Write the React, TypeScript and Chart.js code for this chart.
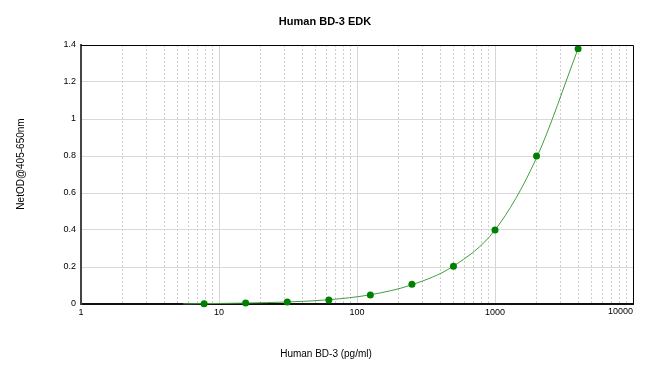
import { useEffect, useRef } from 'react';
import { Chart, registerables } from 'chart.js';

Chart.register(...registerables);

const chartTitle = 'Human BD-3 EDK';
const xAxisTitle = 'Human BD-3 (pg/ml)';
const yAxisTitle = 'NetOD@405-650nm';

// standards (concentration pg/ml, net OD)
const concentrations = [7.8, 15.6, 31.25, 62.5, 125, 250, 500, 1000, 2000, 4000];
const netOD = [0.002, 0.005, 0.011, 0.022, 0.049, 0.107, 0.204, 0.4, 0.8, 1.38];

// fitted curve
const fitX = [5.5, 7.8, 15.6, 31.25, 62.5, 125, 250, 500, 1000, 2000, 4000];
const fitY = [0.001, 0.002, 0.005, 0.011, 0.023, 0.05, 0.104, 0.205, 0.4, 0.79, 1.38];

const xTickValues = [1, 10, 100, 1000, 10000];
const yTickValues = [0, 0.2, 0.4, 0.6, 0.8, 1, 1.2, 1.4];

const FONT = '"Liberation Sans", Arial, sans-serif';

const isDecade = (v: number) => xTickValues.includes(v);
const lastX = xTickValues[xTickValues.length - 1];

export default function App() {
  const ref = useRef<HTMLCanvasElement | null>(null);

  useEffect(() => {
    if (!ref.current) return;

    const frame = {
      id: 'frameAndTitles',
      afterDraw(chart: any) {
        const { ctx, chartArea } = chart;
        const { left, right, top, bottom } = chartArea;
        ctx.save();
        ctx.strokeStyle = '#000';
        ctx.lineWidth = 1;
        ctx.beginPath();
        ctx.moveTo(left, top + 0.5);
        ctx.lineTo(right + 0.5, top + 0.5);
        ctx.lineTo(right + 0.5, bottom);
        ctx.stroke();

        // last x tick label, kept inside the plot edge
        const xs = chart.scales.x;
        ctx.fillStyle = '#000';
        ctx.font = `9px ${FONT}`;
        ctx.textAlign = 'right';
        ctx.textBaseline = 'top';
        ctx.fillText(String(lastX), xs.getPixelForValue(lastX), bottom + 3);

        ctx.textAlign = 'center';
        ctx.textBaseline = 'middle';
        ctx.font = `bold 11px ${FONT}`;
        ctx.fillText(chartTitle, 325, 22);
        ctx.font = `10px ${FONT}`;
        ctx.fillText(xAxisTitle, 326, 354);
        ctx.translate(21, 164);
        ctx.rotate(-Math.PI / 2);
        ctx.fillText(yAxisTitle, 0, 0);
        ctx.restore();
      },
    };

    const xTicks: number[] = [];
    for (let i = 0; i < xTickValues.length - 1; i++) {
      for (let m = 1; m <= 9; m++) xTicks.push(m * xTickValues[i]);
    }
    xTicks.push(lastX);

    const chart = new Chart(ref.current, {
      type: 'line',
      data: {
        datasets: [
          {
            label: 'Standards',
            data: concentrations.map((x, i) => ({ x, y: netOD[i] })),
            showLine: false,
            pointRadius: 3.5,
            pointBackgroundColor: '#008000',
            pointBorderColor: '#008000',
            pointBorderWidth: 0,
            clip: false as any,
          },
          {
            label: 'Fit',
            data: fitX.map((x, i) => ({ x, y: fitY[i] })),
            borderColor: '#3f9f3f',
            borderWidth: 1,
            pointRadius: 0,
            cubicInterpolationMode: 'monotone',
            fill: false,
            clip: false as any,
          },
        ],
      },
      options: {
        responsive: false,
        animation: false,
        events: [],
        layout: { padding: { left: 0, right: 17, top: 45, bottom: 0 } },
        plugins: {
          legend: { display: false },
          tooltip: { enabled: false },
          title: { display: false },
        },
        scales: {
          x: {
            type: 'logarithmic',
            min: 1,
            max: 10000,
            afterBuildTicks: (s: any) => {
              s.ticks = xTicks.map((v) => ({ value: v }));
            },
            afterFit: (s: any) => {
              s.height = 81;
              s.paddingLeft = 0;
              s.paddingRight = 0;
            },
            ticks: {
              autoSkip: false,
              maxRotation: 0,
              padding: 3,
              color: '#000',
              font: { family: FONT, size: 9 },
              callback: (v: any) => {
                const n = Number(v);
                return isDecade(n) && n !== lastX ? String(v) : '';
              },
            },
            grid: {
              drawTicks: false,
              color: (c: any) => (c.tick && isDecade(c.tick.value) ? '#d6d6d6' : '#cdcdcd'),
              lineWidth: 1,
            },
            border: {
              color: '#111',
              width: 2,
              dash: (c: any) => (c.tick && !isDecade(c.tick.value) ? [2, 2] : []),
            },
          },
          y: {
            type: 'linear',
            min: 0,
            max: 1.4,
            afterBuildTicks: (s: any) => {
              s.ticks = yTickValues.map((v) => ({ value: v }));
            },
            afterFit: (s: any) => {
              s.width = 81;
              s.paddingTop = 0;
              s.paddingBottom = 0;
            },
            ticks: {
              padding: 5,
              color: '#000',
              font: { family: FONT, size: 9 },
              callback: (v: any) => String(v),
            },
            grid: {
              drawTicks: false,
              color: '#d9d9d9',
              lineWidth: 1,
            },
            border: { color: '#444', width: 2 },
          },
        },
      } as any,
      plugins: [frame],
    });

    return () => chart.destroy();
  }, []);

  return (
    <div style={{ position: 'fixed', left: 0, top: 0, width: 650, height: 385, background: '#fff' }}>
      <canvas ref={ref} width={650} height={385} />
    </div>
  );
}
